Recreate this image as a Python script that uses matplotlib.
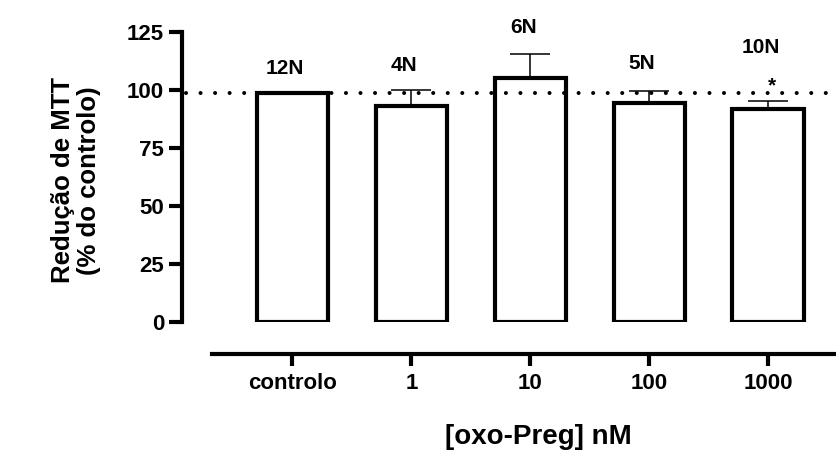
import matplotlib
matplotlib.use("Agg")
import matplotlib.pyplot as plt

plt.rcParams["font.family"] = ["Liberation Sans", "DejaVu Sans"]
plt.rcParams["font.weight"] = "bold"

# data
groups = ["controlo", "1", "10", "100", "1000"]
means = [98.8, 93.1, 105.4, 94.5, 92.1]
sem_up = [0.0, 7.0, 10.2, 5.3, 3.4]
n_labels = ["12N", "4N", "6N", "5N", "10N"]
n_label_y = [107.0, 108.5, 124.6, 109.0, 115.9]
control_level = 98.8
star_group = 4
star_y = 99.4
y_ticks = [0, 25, 50, 75, 100, 125]

fig = plt.figure(figsize=(8.37, 4.51), dpi=100)
ax = fig.add_axes([0.2174, 0.2854, 0.7826, 0.643])

x = list(range(len(groups)))
ax.bar(x, means, width=0.6, facecolor="white", edgecolor="black",
       linewidth=3, zorder=2)
ax.errorbar(x, means, yerr=[[0] * len(sem_up), sem_up], fmt="none",
            ecolor="black", elinewidth=1.1, capsize=14.4, capthick=1.1,
            zorder=3)

# dotted control reference line
ax.axhline(control_level, xmin=0.006, color="black", linewidth=2.9,
           dashes=(0.01, 3.6), dash_capstyle="round", zorder=4)

for xi, lab, yy in zip(x, n_labels, n_label_y):
    ax.text(xi - 0.06, yy, lab, ha="center", va="baseline",
            fontsize=15, fontweight="bold", clip_on=False)
ax.text(x[star_group] + 0.03, star_y, "*", ha="center", va="baseline",
        fontsize=15, fontweight="bold")

ax.set_xlim(-0.929, 4.579)
ax.set_ylim(0, 125)
ax.set_yticks(y_ticks)
ax.set_xticks(x)
ax.set_xticklabels(groups)

for side in ["top", "right"]:
    ax.spines[side].set_visible(False)
ax.spines["left"].set_linewidth(3)
ax.spines["left"].set_bounds(0, 125)
ax.spines["bottom"].set_linewidth(3)
ax.spines["bottom"].set_position(("outward", 23))
ax.spines["bottom"].set_bounds(-0.677, 4.579)

ax.tick_params(axis="y", length=9.4, width=3, pad=3.5, labelsize=16)
ax.tick_params(axis="x", length=8.6, width=3, pad=5, labelsize=16)
for t in ax.get_xticklabels() + ax.get_yticklabels():
    t.set_fontweight("bold")

ax.set_ylabel("Redução de MTT\n(% do controlo)", fontsize=18.5,
              fontweight="bold", linespacing=1.1)
ax.yaxis.set_label_coords(-0.124, 0.49)
ax.set_xlabel("[oxo-Preg] nM", fontsize=20, fontweight="bold")
ax.xaxis.set_label_coords(0.5435, -0.352)

fig.savefig("out.png", dpi=100)
